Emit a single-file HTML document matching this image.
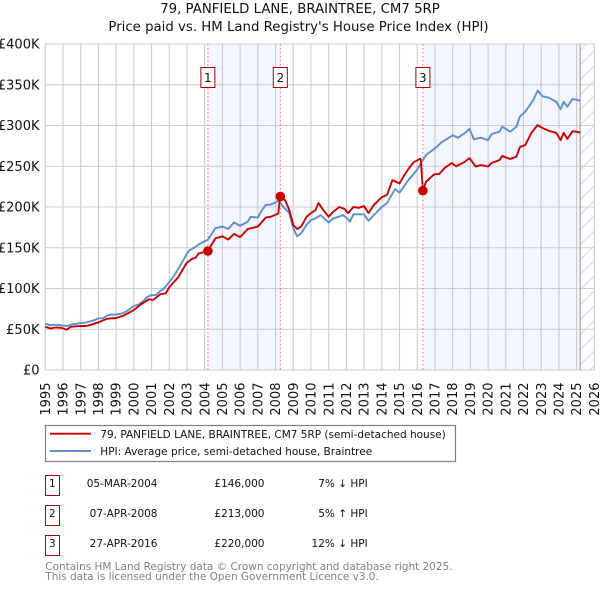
<!DOCTYPE html>
<html>
<head>
<meta charset="utf-8">
<style>
html,body{margin:0;padding:0;background:#fff;width:600px;height:590px;overflow:hidden}
svg{display:block}
text{font-family:"DejaVu Sans","Liberation Sans",sans-serif;fill:#111}
</style>
</head>
<body>
<svg id="chart" width="600" height="590" viewBox="0 0 600 590" xmlns="http://www.w3.org/2000/svg">
<defs>
<pattern id="hatch" patternUnits="userSpaceOnUse" width="15" height="15">
<path d="M-2 2 L2 -2 M0 15 L15 0 M13 17 L17 13" stroke="#d8d8d8" stroke-width="1" fill="none"/>
</pattern>
</defs>
<g id="spans"></g>
<g id="grid"></g>
<g id="ticks"></g>
<g id="series"></g>
<g id="sales"></g>

<text x="300" y="13" font-size="13.3" text-anchor="middle">79, PANFIELD LANE, BRAINTREE, CM7 5RP</text>
<text x="298.5" y="31" font-size="13.3" text-anchor="middle">Price paid vs. HM Land Registry's House Price Index (HPI)</text>

<g>
<rect x="45.5" y="425.5" width="410" height="36" fill="#fff" stroke="#808080" stroke-width="1.2"/>
<line x1="50" x2="91" y1="433.7" y2="433.7" stroke="#cc0000" stroke-width="1.9"/>
<text x="100.3" y="438" font-size="10.5">79, PANFIELD LANE, BRAINTREE, CM7 5RP (semi-detached house)</text>
<line x1="50" x2="91" y1="451" y2="451" stroke="#5b8fd0" stroke-width="1.9"/>
<text x="100.3" y="455" font-size="10.5">HPI: Average price, semi-detached house, Braintree</text>
</g>

<g>
<rect x="45.5" y="475.5" width="14" height="20" fill="#fff" stroke="#b00000" stroke-width="1"/>
<text x="52.3" y="487" font-size="10.5" text-anchor="middle">1</text>
<text x="157.5" y="487" font-size="10.5" text-anchor="end">05-MAR-2004</text>
<text x="264.5" y="487" font-size="10.5" text-anchor="end">£146,000</text>
<text x="367.7" y="487" font-size="10.5" text-anchor="end">7% ↓ HPI</text>

<rect x="45.5" y="505.5" width="14" height="20" fill="#fff" stroke="#b00000" stroke-width="1"/>
<text x="52.3" y="517" font-size="10.5" text-anchor="middle">2</text>
<text x="157.5" y="517" font-size="10.5" text-anchor="end">07-APR-2008</text>
<text x="264.5" y="517" font-size="10.5" text-anchor="end">£213,000</text>
<text x="367.7" y="517" font-size="10.5" text-anchor="end">5% ↑ HPI</text>

<rect x="45.5" y="535.5" width="14" height="20" fill="#fff" stroke="#b00000" stroke-width="1"/>
<text x="52.3" y="547" font-size="10.5" text-anchor="middle">3</text>
<text x="157.5" y="547" font-size="10.5" text-anchor="end">27-APR-2016</text>
<text x="264.5" y="547" font-size="10.5" text-anchor="end">£220,000</text>
<text x="367.7" y="547" font-size="10.5" text-anchor="end">12% ↓ HPI</text>
</g>

<text x="45.3" y="570" font-size="10.47" style="fill:#808080">Contains HM Land Registry data © Crown copyright and database right 2025.</text>
<text x="45.3" y="580" font-size="10.47" style="fill:#808080">This data is licensed under the Open Government Licence v3.0.</text>
</svg>

<script>
const yearTicks = [1995,1996,1997,1998,1999,2000,2001,2002,2003,2004,2005,2006,2007,2008,2009,2010,2011,2012,2013,2014,2015,2016,2017,2018,2019,2020,2021,2022,2023,2024,2025,2026];
const valueTicks = [0,50,100,150,200,250,300,350,400];
const valueTickLabels = ["£0","£50K","£100K","£150K","£200K","£250K","£300K","£350K","£400K"];

const hpiDates = [1995,1995.25,1995.5,1995.75,1996,1996.25,1996.5,1996.75,1997,1997.25,1997.5,1997.75,1998,1998.25,1998.5,1998.75,1999,1999.25,1999.5,1999.75,2000,2000.25,2000.5,2000.75,2001,2001.25,2001.5,2001.75,2002,2002.25,2002.5,2002.75,2003,2003.15,2003.4,2003.7,2004.18,2004.4,2004.6,2005,2005.33,2005.65,2006,2006.43,2006.6,2007,2007.2,2007.45,2007.73,2007.95,2008.15,2008.55,2008.78,2009,2009.22,2009.45,2009.75,2010,2010.25,2010.55,2011,2011.25,2011.55,2011.8,2012,2012.2,2012.4,2013,2013.25,2013.55,2014,2014.3,2014.75,2015,2015.5,2015.95,2016.5,2017.1,2017.35,2018,2018.3,2018.7,2018.95,2019.2,2019.6,2020,2020.2,2020.65,2020.8,2021.25,2021.6,2021.8,2022.1,2022.55,2022.8,2023.07,2023.45,2023.85,2024.1,2024.27,2024.48,2024.77,2025.1,2025.2];
const hpiValues = [57,55,55.5,55.5,54.5,54,56,56.5,57.7,58,59.5,61,63.4,63.5,67,68,68,69,71,74.5,78.5,80,84,89.5,92,92,97,101,108,115,124,133,143,147,150,154.6,160,167,174,176,173,181,177,182,188,187,195,202.5,203,205,208,197.6,192.5,174,164,168,178,184,186,190,181,186,188,190,187,182,191,191,183,190,200,205,222,217.6,233,244.5,264,273.6,279,288,285,291,296,283,285,282,289.5,292.5,298.5,292.5,298.5,311,317,331,343,336,334,329,320,329,323,332.6,331,330];

const paidDates = [1995,1995.3,1995.6,1995.9,1996.2,1996.45,1997,1997.3,1997.6,1998,1998.5,1999,1999.4,1999.7,2000,2000.35,2000.85,2001.1,2001.5,2001.8,2002,2002.5,2002.97,2003.25,2003.5,2003.65,2004.05,2004.18,2004.6,2005,2005.33,2005.65,2006,2006.43,2007,2007.45,2007.73,2008.05,2008.15,2008.27,2008.55,2008.78,2009,2009.22,2009.45,2009.75,2010,2010.25,2010.43,2010.65,2011,2011.25,2011.6,2011.9,2012.1,2012.4,2012.7,2013,2013.25,2013.55,2014,2014.3,2014.6,2015,2015.3,2015.55,2015.8,2016.15,2016.2,2016.32,2016.5,2016.95,2017.25,2017.55,2017.95,2018.2,2018.7,2018.95,2019.3,2019.6,2020,2020.2,2020.65,2020.8,2021.25,2021.6,2021.8,2022.1,2022.45,2022.8,2023.07,2023.5,2023.85,2024.1,2024.27,2024.48,2024.77,2025.1,2025.2];
const paidValues = [53,51,52.3,51.8,49.5,53,54,54,55.6,58.5,63,63.8,66.6,70,73.6,79.8,86.7,86,93,94,101.5,113.7,131,136,138,143,145,146,161.5,164,160,167,163,173,176,187,188,191,192,213,208,196,178,173,176,188,192.5,196,205,197.6,188,194,200,197.6,192.5,200,199,201,192.5,202.5,212,215,233,229,240,248,255,259,259,220,231,240,240.5,248,254,250,255.6,260,249.6,251.5,249.6,254,257.7,262.5,259,261.7,273.6,276,291,300.6,297,293,291,282,291,283.5,293,292,291];

const saleNumbers = [1,2,3];
const saleDates = [2004.18,2008.27,2016.32];
const salePrices = [146,213,220];
const forecastStart = 2025.2;

const X0 = 45.3, PXY = 17.71, Y0 = 370, PXK = 0.815;
const NS = 'http://www.w3.org/2000/svg';
function xs(year){ return X0 + (year - 1995) * PXY; }
function ys(v){ return Y0 - v * PXK; }
function mk(parent, tag, attrs, txt){
  const el = document.createElementNS(NS, tag);
  for (const k in attrs) el.setAttribute(k, attrs[k]);
  if (txt !== undefined) el.textContent = txt;
  document.getElementById(parent).appendChild(el);
  return el;
}
const xL = xs(1995), xR = xs(2026), yT = ys(400), yB = ys(0);

// shaded spans
let el = mk('spans','rect',{x:xs(saleDates[0]),y:yT,width:xs(saleDates[1])-xs(saleDates[0]),height:yB-yT,fill:'#f3f6fe'});


el = mk('spans','rect',{x:xs(saleDates[2]),y:yT,width:xs(forecastStart)-xs(saleDates[2]),height:yB-yT,fill:'#f3f6fe'});



// grid
yearTicks.forEach(function(y){
  const g = mk('grid','line',{x1:xs(y),x2:xs(y),y1:yT,y2:yB,stroke:'#cccccc','stroke-width':1.1});
  
  
});
valueTicks.forEach(function(v){
  const g = mk('grid','line',{x1:xL,x2:xR,y1:ys(v),y2:ys(v),stroke:'#cccccc','stroke-width':1.1});
  
  
});

// forecast hatch
el = mk('grid','rect',{x:xs(forecastStart),y:yT,width:xR-xs(forecastStart),height:yB-yT,fill:'url(#hatch)'});


el = mk('grid','line',{x1:xs(forecastStart),x2:xs(forecastStart),y1:yT,y2:yB,stroke:'#a0a4b0','stroke-width':1.2});



// tick labels
yearTicks.forEach(function(y){
  const px = xs(y) + 4.6;
  const t = mk('ticks','text',{x:0,y:0,'font-size':13,'text-anchor':'end',transform:'translate('+px+',382.5) rotate(-90)'},String(y));
  
  
});
valueTicks.forEach(function(v,i){
  const t = mk('ticks','text',{x:39.5,y:ys(v)+4.6,'font-size':13,'text-anchor':'end'},valueTickLabels[i]);
  
  
});

// series
function pathOf(dates, vals){
  return dates.map(function(d,i){ return (i?'L':'M') + xs(d).toFixed(2) + ' ' + ys(vals[i]).toFixed(2); }).join(' ');
}
el = mk('series','path',{d:pathOf(hpiDates,hpiValues),fill:'none',stroke:'#5b8fd0','stroke-width':1.9,'stroke-linejoin':'round'});


el = mk('series','path',{d:pathOf(paidDates,paidValues),fill:'none',stroke:'#cc0000','stroke-width':1.9,'stroke-linejoin':'round'});



// sale markers
saleDates.forEach(function(d,i){
  const x = xs(d);
  const ln = mk('sales','line',{x1:x,x2:x,y1:yT,y2:yB,stroke:'#f06a6a','stroke-width':1,'stroke-dasharray':'1.5 2.5'});
  
  
  const c = mk('sales','circle',{cx:x,cy:ys(salePrices[i]),r:4.8,fill:'#cc0000'});
  
  
  const b = mk('sales','rect',{x:x-7,y:67.5,width:14,height:20,fill:'#fff',stroke:'#b00000','stroke-width':1});
  
  
  const t = mk('sales','text',{x:x,y:82,'font-size':12,'text-anchor':'middle'},String(saleNumbers[i]));
  
  
});
</script>
</body>
</html>
